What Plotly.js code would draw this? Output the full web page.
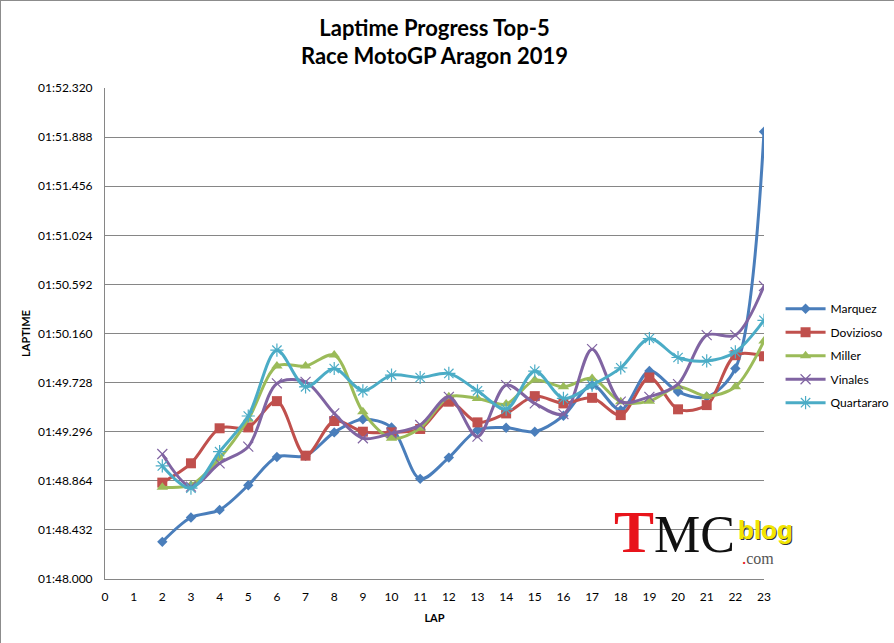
<!DOCTYPE html>
<html>
<head>
<meta charset="utf-8">
<script src="https://cdn.plot.ly/plotly-3.0.1.min.js"></script>
<style>
  html, body { margin: 0; padding: 0; background: #fff; }
  #plot-container { width: 894px; height: 643px; box-sizing: border-box; border: 1px solid #8c8c8c; }
</style>
</head>
<body>
<div id="plot-container"></div>
<script>
// lap numbers (laps 2..23)
const laps = [2, 3, 4, 5, 6, 7, 8, 9, 10, 11, 12, 13, 14, 15, 16, 17, 18, 19, 20, 21, 22, 23];

// lap times in seconds (1:48.327 -> 108.327)
const marquez    = [108.327, 108.541, 108.608, 108.825, 109.074, 109.083, 109.290, 109.405, 109.334, 108.881, 109.068,
                    109.311, 109.331, 109.296, 109.436, 109.706, 109.486, 109.830, 109.647, 109.603, 109.852, 111.936];
const dovizioso  = [108.848, 109.018, 109.326, 109.334, 109.565, 109.085, 109.390, 109.296, 109.290, 109.320, 109.560,
                    109.378, 109.457, 109.609, 109.545, 109.594, 109.442, 109.773, 109.493, 109.530, 109.969, 109.960];
const miller     = [108.808, 108.828, 109.062, 109.405, 109.875, 109.873, 109.970, 109.471, 109.238, 109.326, 109.603,
                    109.589, 109.539, 109.750, 109.691, 109.765, 109.560, 109.565, 109.691, 109.609, 109.691, 110.095];
const vinales    = [109.100, 108.813, 109.018, 109.164, 109.721, 109.735, 109.457, 109.238, 109.282, 109.355, 109.603,
                    109.252, 109.706, 109.545, 109.451, 110.022, 109.560, 109.603, 109.715, 110.145, 110.145, 110.578];
const quartararo = [108.995, 108.799, 109.120, 109.434, 110.013, 109.691, 109.852, 109.656, 109.794, 109.773, 109.809,
                    109.656, 109.495, 109.829, 109.589, 109.706, 109.858, 110.116, 109.949, 109.919, 109.998, 110.276];

const riders  = ['Marquez', 'Dovizioso', 'Miller', 'Vinales', 'Quartararo'];
const series  = [marquez, dovizioso, miller, vinales, quartararo];
const colors  = ['#4a7ebb', '#c0504d', '#9bbb59', '#8064a2', '#4bacc6'];
const symbols = ['diamond', 'square', 'triangle-up', 'x-thin-open', 'asterisk-open'];
const sizes   = [8, 10, 10, 10, 11];

const yTicks = [108.000, 108.432, 108.864, 109.296, 109.728, 110.160, 110.592, 111.024, 111.456, 111.888, 112.320];
const xTicks = [0, 1, 2, 3, 4, 5, 6, 7, 8, 9, 10, 11, 12, 13, 14, 15, 16, 17, 18, 19, 20, 21, 22, 23];

function fmtLap(sec) {
    const m = Math.floor(sec / 60);
    const s = sec - m * 60;
    const ss = s.toFixed(3).padStart(6, '0');
    return String(m).padStart(2, '0') + ':' + ss;
}

let traces = [];
riders.forEach((name, i) => {
    traces.push({
        x: laps,
        y: series[i],
        name: name,
        legendgroup: 'g' + i,
        type: 'scatter',
        mode: 'lines+markers',
        line: { color: colors[i], width: 3, shape: 'spline', smoothing: 0.9 },
        marker: { symbol: symbols[i], size: sizes[i], color: colors[i],
                  line: { color: colors[i], width: (i >= 3 ? 1.2 : 0) } }
    });
});

const font = 'Lato, "Open Sans", sans-serif';

const layout = {
    autosize: false,
    width: 894,
    height: 643,
    paper_bgcolor: '#ffffff',
    plot_bgcolor: '#ffffff',
    margin: { l: 104, r: 131, t: 87, b: 65 },
    font: { family: font, size: 12, color: '#000' },
    title: {
        text: '<b>Laptime Progress Top-5<br>Race MotoGP Aragon 2019</b>',
        font: { family: font, size: 22, color: '#000' },
        x: 0.5, xanchor: 'center', xref: 'paper',
        y: 0.946, yanchor: 'middle', yref: 'container'
    },
    showlegend: true,
    legend: {
        xref: 'container', yref: 'container',
        x: 0.872, xanchor: 'left', y: 0.544, yanchor: 'top',
        font: { family: font, size: 12, color: '#000' },
        tracegroupgap: 4.5, itemwidth: 40
    },
    xaxis: {
        range: [0, 23],
        tickvals: xTicks,
        ticktext: xTicks.map(String),
        showgrid: false,
        zeroline: false,
        showline: true,
        linecolor: '#868686',
        linewidth: 1,
        ticks: '',
        ticklabelstandoff: 7,
        tickfont: { family: font, size: 12 },
        title: { text: '<b>LAP</b>', font: { family: font, size: 11 }, standoff: 10 }
    },
    yaxis: {
        range: [108.000, 112.320],
        tickvals: yTicks,
        ticktext: yTicks.map(fmtLap),
        showgrid: true,
        gridcolor: '#868686',
        gridwidth: 1,
        zeroline: false,
        showline: true,
        linecolor: '#868686',
        linewidth: 1,
        ticks: '',
        ticklabelstandoff: 9,
        tickfont: { family: font, size: 12 },
        title: { text: '<b>LAPTIME</b>', font: { family: font, size: 11 }, standoff: 5 }
    },
    annotations: [{
        xref: 'paper', yref: 'paper',
        x: 0.77, y: 0.095, xanchor: 'left', yanchor: 'middle',
        showarrow: false,
        text: '<span style="color:#e8141b;font-family:Liberation Serif;font-size:60px"><b>T</b></span>' +
              '<span style="color:#111;font-family:Liberation Serif;font-size:52px">MC</span>',
    }, {
        xref: 'paper', yref: 'paper',
        x: 0.958, y: 0.1, xanchor: 'left', yanchor: 'middle',
        xshift: 1, yshift: -1,
        showarrow: false,
        text: '<b><span style="color:#333;font-size:26px;font-family:Liberation Sans">blog</span></b>'
    }, {
        xref: 'paper', yref: 'paper',
        x: 0.958, y: 0.1, xanchor: 'left', yanchor: 'middle',
        showarrow: false,
        text: '<b><span style="color:#f2e600;font-size:26px;font-family:Liberation Sans">blog</span></b>'
    }, {
        xref: 'paper', yref: 'paper',
        x: 0.964, y: 0.045, xanchor: 'left', yanchor: 'middle',
        showarrow: false,
        text: '<span style="color:#e8141b;font-size:18px">.</span><span style="color:#555;font-size:16px;font-family:Liberation Serif">com</span>'
    }]
};

Plotly.newPlot('plot-container', traces, layout, { displayModeBar: false, staticPlot: true });
</script>
</body>
</html>
